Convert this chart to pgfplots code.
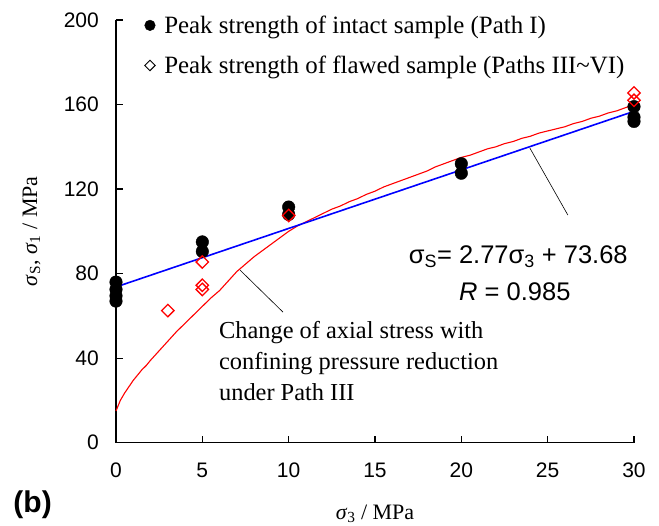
\documentclass[border=0pt]{standalone}
\usepackage{fontspec}
\setmainfont{Liberation Serif}
\setsansfont{Liberation Sans}
\usepackage{pgfplots}
\pgfplotsset{compat=1.18}

\begin{document}
\begin{tikzpicture}
\begin{axis}[
    scale only axis,
    width=518pt, height=422.7pt,
    xmin=0, xmax=30, ymin=0, ymax=200,
    axis lines*=left,
    axis line style={line width=1.5pt},
    tick align=inside,
    major tick length=7pt,
    every tick/.style={black, line width=1.2pt},
    xtick={0,5,...,30},
    ytick={0,40,...,200},
    /pgf/number format/assume math mode=true,
    tick label style={font=\sffamily\fontsize{21}{21}\selectfont},
    xticklabel style={inner sep=0pt, yshift=-20pt},
    yticklabel style={inner sep=0pt, xshift=-17pt},
    xlabel={\textit{σ}\textsubscript{3} / MPa},
    ylabel={\textit{σ}\textsubscript{S}, \textit{σ}\textsubscript{1} / MPa},
    label style={font=\fontsize{22}{22}\selectfont},
    xlabel style={at={(axis description cs:0.5,-0.168)}, anchor=center},
    ylabel style={at={(axis description cs:-0.163,0.5)}, anchor=center, rotate=0},
    legend style={at={(axis cs:1.65,203)}, anchor=north west, draw=none, fill=none,
        font=\fontsize{24.9}{24.9}\selectfont, row sep=17pt, column sep=7pt, inner sep=0pt},
    legend cell align=left,
    clip=false,
]
% legend entries
\addlegendimage{only marks, mark=*, mark size=5.3pt, black}
\addlegendentry{Peak strength of intact sample (Path I)}
\addlegendimage{only marks, mark=square, mark size=3.7pt, black, line width=0.9pt, mark options={rotate=45}}
\addlegendentry{Peak strength of flawed sample (Paths III\textasciitilde VI)}

% axial stress under Path III
\addplot[red, line width=1.1pt, forget plot] coordinates {
(0,15) (0.25,20) (0.5,23.5) (0.75,26.5) (1,29.5) (1.25,32) (1.5,34.5) (1.75,36.5)
(2,39) (2.5,43.5) (3,48) (3.5,52.5) (4,56.5) (4.5,60.5) (5,64.5) (5.5,68.5)
(6,72) (6.5,76.5) (7,81) (7.5,84.5) (8,88) (8.5,91) (9,94) (9.5,97) (10,100)
(10.5,102.5) (11,104.5) (11.5,106.5) (12,108.5) (12.5,110.5) (13,112)
(13.5,114) (14,115.5) (14.5,117.5) (15,119) (15.5,121) (16,122.5) (16.5,124)
(17,125.5) (17.5,127) (18,128.5) (18.5,130.5) (19,132) (19.5,133.5) (20,135)
(20.5,136) (21,137.5) (21.5,139) (22,140) (22.5,141.5) (23,142.5) (23.5,144)
(24,145) (24.5,146.5) (25,147.5) (25.5,148.5) (26,149.5) (26.5,151) (27,152)
(27.5,153.5) (28,154.5) (28.5,156) (29,157) (29.5,158.5) (30,160)
};

% linear fit
\addplot[blue, line width=1.6pt, forget plot] coordinates {(0,73.68) (30,156.78)};

% intact samples
\addplot[only marks, mark=*, mark size=6.3pt, black, forget plot] coordinates {
(0,76) (0,72.5) (0,69.5) (0,67) (5,95) (5,90.5) (10,111.5) (10,108)
(20,132) (20,127.5) (30,159) (30,154) (30,152)
};

% flawed samples
\addplot[only marks, mark=square, mark size=4.4pt, red, line width=1.3pt,
    mark options={rotate=45, fill=white}, forget plot] coordinates {
(3,62.5) (5,85.5) (5,74.5) (5,72.5) (10,107.5) (30,165.5) (30,162)
};

% annotations
\draw[line width=0.6pt] (axis cs:23.97,139.4) -- (axis cs:26.17,107.7);
\draw[line width=0.6pt] (axis cs:7.18,81.7) -- (axis cs:9.67,61.8);
\node[font=\sffamily\fontsize{25.5}{25.5}\selectfont] at (axis cs:23.3,88.2)
    {σ\textsubscript{S}= 2.77σ\textsubscript{3} + 73.68};
\node[font=\sffamily\fontsize{25.5}{25.5}\selectfont] at (axis cs:23.1,71.3)
    {\textit{R} = 0.985};
\node[anchor=north west, inner sep=0pt, align=left,
    font=\fontsize{24.4}{31}\selectfont] at (axis cs:5.96,57.5)
    {Change of axial stress with\\confining pressure reduction\\under Path III};
\node[font=\sffamily\bfseries\fontsize{30}{30}\selectfont]
    at (axis description cs:-0.161,-0.147) {(b)};
\end{axis}
\path (current axis.south west) ++(-116pt,-83.3pt) rectangle ++(659pt,526pt);
\end{tikzpicture}
\end{document}
